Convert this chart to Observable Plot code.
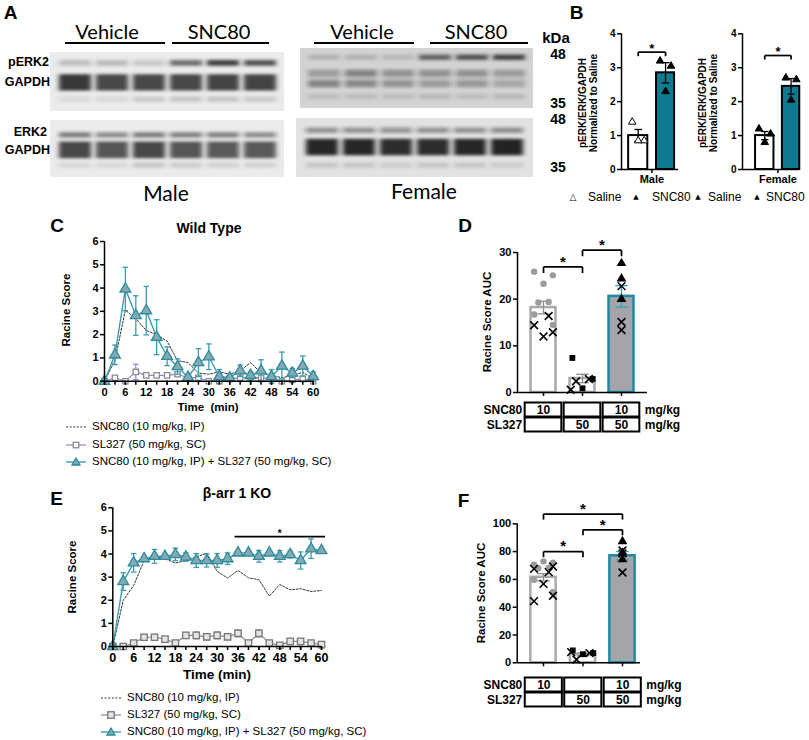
<!DOCTYPE html>
<html><head><meta charset="utf-8">
<script src="https://cdn.jsdelivr.net/npm/d3@7"></script>
<script src="https://cdn.jsdelivr.net/npm/@observablehq/plot@0.6"></script>
<style>
body{margin:0;background:#fff}
#fig{position:relative;width:809px;height:740px;overflow:hidden;background:#fff;font-family:"Liberation Sans",Arial,sans-serif;}
.t{position:absolute;white-space:pre;line-height:1;color:#000}
</style></head><body><div id="fig"></div>
<script>
// ---------------- DATA ----------------
const lanes = [1,2,3,4,5,6];
// blot bands: kDa position, spread (kDa), darkness per lane
const maleTopBands = [
  {kDa:45.6, spread:1.3, level:[0.22,0.2,0.17,0.6,0.8,0.72]},
  {kDa:41.3, spread:3.6, level:[0.85,0.78,0.78,0.78,0.8,0.8]},
  {kDa:37.6, spread:1.2, level:[0.08,0.08,0.14,0.16,0.16,0.14]}];
const maleBottomBands = [
  {kDa:44.6, spread:1.2, level:[0.55,0.45,0.55,0.5,0.5,0.45]},
  {kDa:41.2, spread:3.8, level:[0.78,0.72,0.78,0.72,0.7,0.7]},
  {kDa:37.7, spread:1.3, level:[0.08,0.08,0.15,0.12,0.1,0.1]}];
const femaleTopBands = [
  {kDa:46.0, spread:1.2, level:[0.15,0.15,0.12,0.62,0.7,0.78]},
  {kDa:42.5, spread:1.6, level:[0.3,0.42,0.35,0.35,0.35,0.3]},
  {kDa:40.3, spread:1.6, level:[0.42,0.4,0.35,0.3,0.32,0.25]},
  {kDa:37.5, spread:1.2, level:[0.1,0.1,0.1,0.12,0.1,0.12]}];
const femaleBottomBands = [
  {kDa:45.3, spread:1.2, level:[0.4,0.4,0.38,0.4,0.4,0.42]},
  {kDa:41.6, spread:3.6, level:[0.95,0.95,0.92,0.92,0.95,0.97]},
  {kDa:37.6, spread:1.2, level:[0.12,0.12,0.1,0.12,0.12,0.1]}];

// Panel B
const maleMeans = [1.0, 2.85], maleSem = [0.18, 0.3];
const maleSaline = [1.4, 0.85, 0.85], maleSNC80 = [3.2, 3.05, 2.3];
const femaleMeans = [1.0, 2.45], femaleSem = [0.12, 0.23];
const femaleSaline = [1.2, 1.05, 0.8], femaleSNC80 = [2.7, 2.65, 2.05];

// Panels C / E
const timeMin = [0,3,6,9,12,15,18,21,24,27,30,33,36,39,42,45,48,51,54,57,60];
const wtSNC80 = [0,0.9,3.05,2.68,2.18,2.0,1.72,0.88,0.8,0.35,0.3,0.4,0.3,0.45,0.8,0.35,0.25,0.15,0.25,0.38,0.1];
const wtSL327 = [0,0.15,0,0.4,0.25,0.25,0.25,0.3,0.15,0.15,0,0,0.1,0.15,0.15,0.15,0.1,0,0.05,0.1,0];
const wtSL327Sem = [0,0.05,0,0.33,0.05,0.05,0.05,0.1,0.05,0.05,0,0,0.05,0.05,0.05,0.05,0.05,0,0.03,0.05,0];
const wtCombo = [0,1.13,3.96,2.82,3.03,1.89,1.07,0.63,0.17,0.8,1.05,0.2,0.15,0.45,0.25,0.45,0.2,0.65,0.35,0.65,0.2];
const wtComboSem = [0,0.42,0.93,0.85,1.04,0.75,0.4,0.33,0.1,0.6,0.55,0.3,0.15,0.25,0.15,0.47,0.3,0.6,0.2,0.43,0.2];
const koSNC80 = [0,2.0,2.64,3.72,3.87,3.8,3.61,3.72,3.87,4.04,3.25,2.96,3.29,2.97,2.89,2.18,2.68,2.45,2.5,2.38,2.42];
const koSL327 = [0,0,0.15,0.4,0.4,0.32,0.15,0.48,0.48,0.42,0.48,0.42,0.57,0.15,0.57,0.15,0.05,0.22,0.22,0.15,0.08];
const koSL327Sem = [0,0.03,0.08,0.12,0.12,0.1,0.05,0.12,0.15,0.12,0.15,0.1,0.15,0.05,0.15,0.05,0.05,0.1,0.08,0.05,0.05];
const koCombo = [0,2.81,3.62,3.8,3.9,3.9,3.98,3.87,3.72,3.72,3.72,3.8,4.05,4.05,3.9,4.05,3.9,3.98,3.72,4.23,4.15];
const koComboSem = [0,0.38,0.4,0.05,0.3,0.05,0.27,0.18,0.3,0.28,0.3,0.25,0.05,0.05,0.25,0.05,0.25,0.15,0.37,0.42,0.05];
const koSigRange = [{a:35, b:61, h:4.75}];

const legendLabels = ["SNC80 (10 mg/kg, IP)", "SL327 (50 mg/kg, SC)", "SNC80 (10 mg/kg, IP) + SL327 (50 mg/kg, SC)"];

// Panels D / F (groups: 0 SNC80, 1 SL327, 2 SNC80+SL327)
const dMeans = [18.2, 3.0, 20.6], dSem = [1.35, 0.9, 2.3];
const dCircles = [25.9,25.1,23.3,19.3,19.4,16.7,14.5], dCross0 = [16.4,14.4,12.9,12.0];
const dSquares = [7.4,2.9,0.9], dCross1 = [2.4,2.9,0.6];
const dTriangles = [27.7,24.4,20.0], dCross2 = [22.8,15.1,13.4];
const dBrackets = [{a:0,b:1,h:26.9},{a:1,b:2,h:30.5}];
const fMeans = [61.5, 6.0, 77.0], fSem = [2.6, 1.0, 3.0];
const fCircles = [70.5,72,73,68,68.3,59.7,50.8], fCross0 = [65.2,67.6,69.3,56.8,44.4,48.2];
const fSquares = [8.9,7.0,6.2], fCross1 = [2.4,7.0,7.7];
const fTriangles = [79,87.3,74.3], fCross2 = [80.8,78.7,65];
const fBrackets = [{a:0,b:1,h:80},{a:1,b:2,h:95.7},{a:0,b:2,h:107}];
const tableRows = ["SNC80","SL327"];
const tableDoses = {SNC80:["10","","10"], SL327:["","50","50"]};

// ---------------- HELPERS ----------------
const fig = document.getElementById("fig");
function put(node, left, top){ node.style.position="absolute"; node.style.left=left+"px"; node.style.top=top+"px"; fig.appendChild(node); return node; }
function txt(s, x, y, o={}){
  const d=document.createElement("div"); d.className="t"; d.textContent=s;
  d.style.fontSize=(o.size||12)+"px"; d.style.fontWeight=o.weight||"normal";
  if(o.font) d.style.fontFamily=o.font;
  const ax={start:"0%",middle:"-50%",end:"-100%"}[o.anchor||"middle"];
  d.style.left=x+"px"; d.style.top=y+"px";
  d.style.transform=`translate(${ax},-50%)`+(o.rotate?` rotate(${o.rotate}deg)`:"");
  fig.appendChild(d); return d;
}
function hline(x1,x2,y,w){ const d=document.createElement("div"); d.style.position="absolute"; d.style.left=x1+"px"; d.style.top=(y-w/2)+"px"; d.style.width=(x2-x1)+"px"; d.style.height=w+"px"; d.style.background="#000"; fig.appendChild(d); }
const style = {fontFamily:'"Liberation Sans", Arial, sans-serif', fontSize:"11px", fontWeight:"bold", color:"#000", background:"transparent", overflow:"visible"};
const TEAL="#3a9db0", TRIFILL="#86a9b1", TRISTROKE="#2b8c9e";
const intFmt = d=>String(d);

function caps(data, x, y, w, stroke, sw=1.2){
  return Plot.link(data,{x1:d=>x(d)-w, x2:d=>x(d)+w, y1:y, y2:y, stroke, strokeWidth:sw});
}
function brackets(list, drop, dy, fs){
  const segs = list.flatMap(b=>[{x1:b.a,x2:b.b,y1:b.h,y2:b.h},{x1:b.a,x2:b.a,y1:b.h,y2:b.h-drop},{x1:b.b,x2:b.b,y1:b.h,y2:b.h-drop}]);
  return [Plot.link(segs,{x1:"x1",x2:"x2",y1:"y1",y2:"y2",stroke:"black",strokeWidth:1.7}),
          Plot.text(list,{x:d=>(d.a+d.b)/2,y:"h",text:()=>"*",fontSize:fs,dy,fontWeight:"bold"})];
}
const spreadOrder = [-1, 1, 0, -0.55, 0.55, -1, 1, 0];
function jit(vals, g, w, start=0){ return vals.map((v,i)=>({x:g+spreadOrder[(i+start)%spreadOrder.length]*w, v})); }

// ---------------- PANEL A (blots) ----------------
let blotId=0;
function blot(bands, bg, w, h, left, top){
  const cells = bands.flatMap(b=>b.level.map((v,i)=>({lane:lanes[i], lo:b.kDa-b.spread/2, hi:b.kDa+b.spread/2, v})));
  const p = Plot.plot({width:w,height:h,margin:0,
    x:{domain:lanes,paddingInner:0.14,paddingOuter:0.2,axis:null},
    y:{domain:[35,48],axis:null},
    style:{background:bg,overflow:"hidden"},
    marks:[Plot.barY(cells,{x:"lane",y1:"lo",y2:"hi",fill:"#1b1b1b",fillOpacity:"v"})]});
  const id="blur"+(blotId++);
  const s=d3.select(p);
  s.insert("defs",":first-child").html(`<filter id="${id}" x="-20%" y="-60%" width="140%" height="220%"><feGaussianBlur stdDeviation="2.4 1.6"/></filter>`);
  s.selectAll('g[aria-label="bar"]').attr("filter",`url(#${id})`);
  put(p,left,top);
}
blot(maleTopBands,"#ebebeb",234,59,50,52);
blot(maleBottomBands,"#ebebeb",234,57,50,120);
blot(femaleTopBands,"#d3d3d3",233,60,300,48);
blot(femaleBottomBands,"#e2e2e2",237,59,296,118);

txt("A",10.5,12,{size:19,weight:"bold"});
const LATO='Lato, "Open Sans", sans-serif';
txt("Vehicle",107,31,{size:20,font:LATO});
txt("SNC80",219,31,{size:20,font:LATO});
txt("Vehicle",362,31,{size:20,font:LATO});
txt("SNC80",476,31,{size:20,font:LATO});
hline(65,165,43,2.6); hline(172,269,43,2.6); hline(314,414,43,2.6); hline(430,528,43,2.6);
txt("pERK2",49,62,{size:12.5,weight:"bold",anchor:"end"});
txt("GAPDH",50,82,{size:12.5,weight:"bold",anchor:"end"});
txt("ERK2",47,132,{size:12.5,weight:"bold",anchor:"end"});
txt("GAPDH",50,150,{size:12.5,weight:"bold",anchor:"end"});
txt("Male",166,192,{size:21,font:LATO});
txt("Female",424,190,{size:21,font:LATO});
txt("kDa",556,37,{size:15,weight:"bold"});
txt("48",558,54,{size:14,weight:"bold"});
txt("35",558,103,{size:14,weight:"bold"});
txt("48",558,119,{size:14,weight:"bold"});
txt("35",558,167,{size:14,weight:"bold"});

// ---------------- PANEL B ----------------
function bPlot(means, sems, saline, snc, openSaline, name, xdom, left, bh){
  const bars = means.map((v,i)=>({i,v,e:sems[i]}));
  const pts = [...jit(saline,0,0.22).map(d=>({...d,g:0})), ...jit(snc,1,0.2).map(d=>({...d,g:1}))];
  const p = Plot.plot({width:90,height:165,marginLeft:26,marginRight:7,marginTop:8.3,marginBottom:21,style,
    x:{domain:xdom,label:null}, y:{domain:[0,4],label:null},
    marks:[
      Plot.rectY(bars.filter(d=>d.i===0),{x1:d=>d.i-0.35,x2:d=>d.i+0.35,y:"v",fill:"white",stroke:"black",strokeWidth:2}),
      Plot.rectY(bars.filter(d=>d.i===1),{x1:d=>d.i-0.33,x2:d=>d.i+0.33,y:"v",fill:"#0f7a90",stroke:"black",strokeWidth:2}),
      Plot.ruleX(bars,{x:"i",y1:d=>d.v-d.e,y2:d=>d.v+d.e,stroke:"black",strokeWidth:1.3}),
      caps(bars,d=>d.i,d=>d.v+d.e,0.14,"black",1.3),
      caps(bars,d=>d.i,d=>d.v-d.e,0.14,"black",1.3),
      Plot.dot(pts,{x:"x",y:"v",symbol:"triangle",r:2.8,fill:d=>(openSaline&&d.g===0)?"white":"black",stroke:"black",strokeWidth:1}),
      ...brackets([{a:0,b:1,h:bh}],0.12,-3.5,13),
      Plot.ruleY([0],{strokeWidth:1.5}),
      Plot.ruleX([xdom[0]],{y1:0,y2:4,strokeWidth:1.5}),
      Plot.axisY({ticks:[0,1,2,3,4],tickSize:4,tickPadding:2,tickFormat:intFmt,fontSize:10,strokeWidth:1.5,label:null}),
      Plot.axisX({ticks:[0.5],tickSize:4,tickPadding:2,tickFormat:()=>name,fontSize:11,strokeWidth:1.5,label:null})
    ]});
  put(p,left,25);
}
bPlot(maleMeans,maleSem,maleSaline,maleSNC80,true,"Male",[-0.611,1.473],595,3.46);
bPlot(femaleMeans,femaleSem,femaleSaline,femaleSNC80,false,"Female",[-0.846,1.32],716,3.36);
txt("B",576.5,11.5,{size:19,weight:"bold"});
txt("pERK/ERK/GAPDH",583,103,{size:10,weight:"bold",rotate:-90});
txt("Normalized to Saline",594,103,{size:10,weight:"bold",rotate:-90});
txt("pERK/ERK/GAPDH",703,103,{size:10,weight:"bold",rotate:-90});
txt("Normalized to Saline",714,103,{size:10,weight:"bold",rotate:-90});
txt("\u25B3",573,197,{size:9,font:"DejaVu Sans"});
txt("Saline",588,197,{size:12,anchor:"start"});
txt("\u25B2",636,197,{size:7,font:"DejaVu Sans"});
txt("SNC80",652,197,{size:12,anchor:"start"});
txt("\u25B2",698,197,{size:7,font:"DejaVu Sans"});
txt("Saline",708,197,{size:12,anchor:"start"});
txt("\u25B2",757,197,{size:7,font:"DejaVu Sans"});
txt("SNC80",766,197,{size:12,anchor:"start"});

// ---------------- PANELS C / E ----------------
function timePlot({snc, sl, slE, co, coE, slLine, slErr, sqFill, sqStroke, sqR, sig, dims, tickFont, yFont}){
  const data = timeMin.map((t,i)=>({t, snc:snc[i], sl:sl[i], slE:slE[i], co:co[i], coE:coE[i]}));
  const withErr = data.filter(d=>d.slE>0);
  const marks = [
    Plot.line(data,{x:"t",y:"sl",stroke:slLine,strokeWidth:1.2}),
    Plot.ruleX(withErr,{x:"t",y1:d=>d.sl-d.slE,y2:d=>d.sl+d.slE,stroke:slErr,strokeWidth:1.2}),
    caps(withErr,d=>d.t,d=>d.sl+d.slE,0.8,slErr),
    caps(withErr,d=>d.t,d=>d.sl-d.slE,0.8,slErr),
    Plot.dot(data,{x:"t",y:"sl",symbol:"square",r:sqR,fill:sqFill,stroke:sqStroke,strokeWidth:1.3}),
    Plot.line(data,{x:"t",y:"snc",stroke:"#333",strokeDasharray:"2,1.6",strokeWidth:1}),
    Plot.line(data,{x:"t",y:"co",stroke:TEAL,strokeWidth:1.4}),
    Plot.ruleX(data,{x:"t",y1:d=>d.co-d.coE,y2:d=>d.co+d.coE,stroke:TEAL,strokeWidth:1.3}),
    caps(data,d=>d.t,d=>d.co+d.coE,0.8,TEAL,1.3),
    caps(data,d=>d.t,d=>d.co-d.coE,0.8,TEAL,1.3),
    Plot.dot(data,{x:"t",y:"co",symbol:"triangle",r:4,fill:TRIFILL,stroke:TRISTROKE,strokeWidth:1.3}),
    Plot.ruleY([0],{strokeWidth:1.5}),
    Plot.ruleX([0],{strokeWidth:1.5}),
    Plot.axisY({ticks:[0,1,2,3,4,5,6],tickSize:4,tickPadding:2,tickFormat:intFmt,fontSize:yFont,strokeWidth:1.5,label:null}),
    Plot.axisX({ticks:timeMin,tickSize:4,tickFormat:()=>"",strokeWidth:1.5,label:null}),
    Plot.axisX({ticks:timeMin.filter((t,i)=>i%2===0),tickSize:4,tickPadding:3,tickFormat:intFmt,fontSize:tickFont,strokeWidth:1.5,label:null})
  ];
  if(sig){
    marks.push(Plot.link(sig,{x1:"a",x2:"b",y1:"h",y2:"h",stroke:"black",strokeWidth:1.7}));
    marks.push(Plot.text(sig,{x:d=>(d.a+d.b)/2,y:"h",text:()=>"*",fontSize:10,dy:-3,fontWeight:"bold"}));
  }
  const p = Plot.plot({width:270,height:dims.h,marginLeft:dims.ml,marginRight:dims.mr,marginTop:dims.mt,marginBottom:dims.mb,style,
    x:{domain:[0,60],label:null}, y:{domain:[0,6],label:null}, marks});
  put(p,dims.left,dims.top);
}
timePlot({snc:wtSNC80, sl:wtSL327, slE:wtSL327Sem, co:wtCombo, coE:wtComboSem, slLine:"#8f86e0", slErr:"#8f86e0", sqFill:"white", sqStroke:"#8c8c8c", sqR:3, tickFont:11, yFont:11,
  dims:{left:55,top:232,h:175,ml:49,mr:12.3,mt:9,mb:26.3}});
timePlot({snc:koSNC80, sl:koSL327, slE:koSL327Sem, co:koCombo, coE:koComboSem, slLine:"#888", slErr:"#999", sqFill:"#e4e4e4", sqStroke:"#777", sqR:3.6, sig:koSigRange, tickFont:12.5, yFont:11,
  dims:{left:60,top:495,h:175,ml:52.3,mr:9,mt:12.3,mb:24}});

txt("C",57,225,{size:19,weight:"bold"});
txt("Wild Type",209,228,{size:14,weight:"bold"});
txt("Racine Score",67,310,{size:11.5,weight:"bold",rotate:-90});
txt("Time  (min)",208,408,{size:11.5,weight:"bold"});
txt("E",56.5,497.5,{size:19,weight:"bold"});
txt("\u03B2-arr 1 KO",237,493,{size:14,weight:"bold"});
txt("Racine Score",73,577,{size:11.5,weight:"bold",rotate:-90});
txt("Time (min)",217,675,{size:13.5,weight:"bold"});

function legendSym(kind, left, cy){
  const s = d3.create("svg").attr("width",24).attr("height",12).style("overflow","visible");
  if(kind==="dash"){ s.append("line").attr("x1",2).attr("x2",22).attr("y1",6).attr("y2",6).attr("stroke","#333").attr("stroke-dasharray","2,1.6"); }
  else if(kind==="sqC"||kind==="sqE"){
    s.append("line").attr("x1",2).attr("x2",22).attr("y1",6).attr("y2",6).attr("stroke",kind==="sqC"?"#8f86e0":"#888").attr("stroke-width",1.2);
    const a = kind==="sqC"?5.5:6.5;
    s.append("rect").attr("x",12-a/2).attr("y",6-a/2).attr("width",a).attr("height",a).attr("fill",kind==="sqC"?"white":"#e4e4e4").attr("stroke",kind==="sqC"?"#8c8c8c":"#777").attr("stroke-width",1.3);
  } else {
    s.append("line").attr("x1",2).attr("x2",22).attr("y1",6).attr("y2",6).attr("stroke",TEAL).attr("stroke-width",1.4);
    s.append("path").attr("d","M12,2L16,9H8Z").attr("fill",TRIFILL).attr("stroke",TRISTROKE).attr("stroke-width",1.3);
  }
  put(s.node(),left,cy-6);
}
[["dash",427],["sqC",445],["tri",462]].forEach(([k,y],i)=>{ legendSym(k,64,y); txt(legendLabels[i],92,y,{size:11.5,anchor:"start"}); });
[["dash",698],["sqE",715],["tri",732]].forEach(([k,y],i)=>{ legendSym(k,99,y); txt(legendLabels[i],127,y,{size:11.5,anchor:"start"}); });

// ---------------- PANELS D / F ----------------
function aucPlot({means, sems, circles, cross0, squares, cross1, triangles, cross2, br, ymax, yticks, xdom, dims, drop}){
  const bars = means.map((v,i)=>({i,v,e:sems[i]}));
  const hw=0.32;
  const plain = bars.filter(d=>d.i<2), combo = bars.filter(d=>d.i===2);
  const p = Plot.plot({width:dims.w,height:dims.h,marginLeft:dims.ml,marginRight:dims.mr,marginTop:dims.mt,marginBottom:dims.mb,style,
    x:{domain:xdom,label:null}, y:{domain:[0,ymax],label:null},
    marks:[
      Plot.rectY(plain,{x1:d=>d.i-hw,x2:d=>d.i+hw,y:"v",fill:"white",stroke:"#a9a9a9",strokeWidth:2.5}),
      Plot.rectY(combo,{x1:d=>d.i-hw,x2:d=>d.i+hw,y:"v",fill:"#a4a4a9",stroke:"#1f8aa2",strokeWidth:2.5}),
      Plot.ruleX(plain,{x:"i",y1:d=>d.v-d.e,y2:d=>d.v+d.e,stroke:"#8c8c8c",strokeWidth:1.3}),
      caps(plain,d=>d.i,d=>d.v+d.e,0.16,"#8c8c8c",1.3),
      caps(plain,d=>d.i,d=>d.v-d.e,0.16,"#8c8c8c",1.3),
      Plot.ruleX(combo,{x:"i",y1:d=>d.v-d.e,y2:d=>d.v+d.e,stroke:"#2aa3bd",strokeWidth:1.3}),
      caps(combo,d=>d.i,d=>d.v+d.e,0.16,"#2aa3bd",1.3),
      caps(combo,d=>d.i,d=>d.v-d.e,0.16,"#2aa3bd",1.3),
      Plot.dot(jit(circles,0,0.24),{x:"x",y:"v",r:3.2,fill:"#9b9b9b"}),
      Plot.dot(jit(squares,1,0.26),{x:"x",y:"v",symbol:"square",r:3.3,fill:"black"}),
      Plot.dot(jit(triangles,2,0.0),{x:"x",y:"v",symbol:"triangle",r:3.6,fill:"black"}),
      Plot.dot([...jit(cross0,0,0.24,4),...jit(cross1,1,0.3,3),...jit(cross2,2,0.0)],{x:"x",y:"v",symbol:"times",r:3.6,stroke:"black",strokeWidth:1.6}),
      ...brackets(br,drop,-5,15),
      Plot.ruleY([0],{strokeWidth:1.5}),
      Plot.ruleX([xdom[0]],{y1:0,y2:ymax,strokeWidth:1.5}),
      Plot.axisY({ticks:yticks,tickSize:4,tickPadding:2,tickFormat:intFmt,fontSize:11,strokeWidth:1.5,label:null}),
      Plot.axisX({ticks:[0,1,2],tickSize:4,tickFormat:()=>"",strokeWidth:1.5,label:null})
    ]});
  put(p,dims.left,dims.top);
}
function tablePlot(xdom, frameW, left, top){
  const cells = tableRows.flatMap(r=>tableDoses[r].map((dose,col)=>({row:r,col,dose})));
  const p = Plot.plot({width:77+frameW+40,height:34,marginLeft:77,marginRight:40,marginTop:2,marginBottom:2,style:{...style,fontSize:"12px"},
    x:{domain:xdom,axis:null}, y:{domain:tableRows,padding:0,axis:null},
    marks:[
      Plot.barX(cells,{x1:d=>d.col-0.47,x2:d=>d.col+0.47,y:"row",fill:"white",stroke:"black",strokeWidth:2,insetTop:0.5,insetBottom:0.5}),
      Plot.text(cells,{x:"col",y:"row",text:"dose",fontSize:12,fontWeight:"bold"}),
      Plot.text(tableRows,{x:()=>-0.47,y:d=>d,text:d=>d,textAnchor:"end",dx:-3,fontSize:12,fontWeight:"bold"}),
      Plot.text(tableRows,{x:()=>2.47,y:d=>d,text:()=>"mg/kg",textAnchor:"start",dx:5,fontSize:12,fontWeight:"bold"})
    ]});
  put(p,left,top);
}
aucPlot({means:dMeans,sems:dSem,circles:dCircles,cross0:dCross0,squares:dSquares,cross1:dCross1,triangles:dTriangles,cross2:dCross2,
  br:dBrackets,ymax:30,yticks:[0,10,20,30],xdom:[-0.667,2.667],drop:1.3,
  dims:{left:500,top:225,w:150,h:178,ml:17,mr:3,mt:27,mb:11}});
tablePlot([-0.667,2.667],130,440,400);
aucPlot({means:fMeans,sems:fSem,circles:fCircles,cross0:fCross0,squares:fSquares,cross1:fCross1,triangles:fTriangles,cross2:fCross2,
  br:fBrackets,ymax:100,yticks:[0,20,40,60,80,100],xdom:[-0.666,2.456],drop:4,
  dims:{left:500,top:495,w:145,h:178,ml:16.7,mr:5,mt:28.3,mb:10.7}});
tablePlot([-0.666,2.456],123.3,440,675);

txt("D",465,225,{size:19,weight:"bold"});
txt("Racine Score AUC",488,322,{size:11.5,weight:"bold",rotate:-90});
txt("F",463.5,499.5,{size:19,weight:"bold"});
txt("Racine Score AUC",482,593,{size:11.5,weight:"bold",rotate:-90});
</script></body></html>
